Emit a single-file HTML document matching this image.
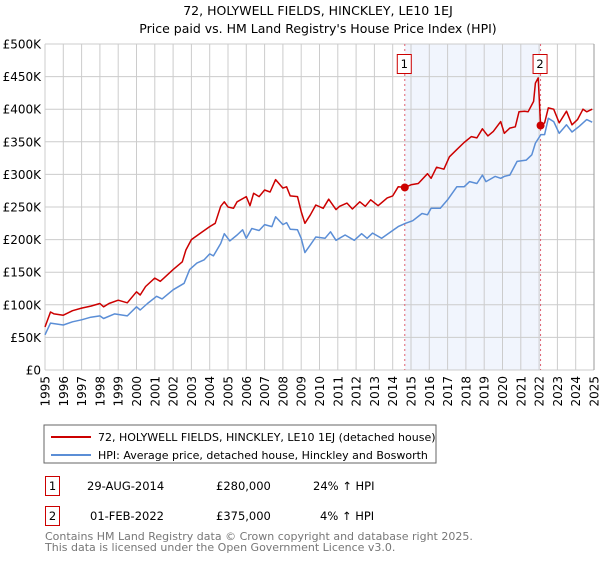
<!DOCTYPE html>
<html><head><meta charset="utf-8"><style>
body{margin:0;background:#fff;font-family:"Liberation Sans","DejaVu Sans",sans-serif;}
svg text{font-family:"DejaVu Sans","Liberation Sans",sans-serif;}
</style></head><body>
<svg id="c" width="600" height="560" xmlns="http://www.w3.org/2000/svg">
<text x="318" y="15" text-anchor="middle" font-size="12.5">72, HOLYWELL FIELDS, HINCKLEY, LE10 1EJ</text>
<text x="318" y="33" text-anchor="middle" font-size="12.5">Price paid vs. HM Land Registry's House Price Index (HPI)</text>
<g id="plot"></g>
<rect x="44" y="425" width="392" height="38" fill="#fff" stroke="#666"/>
<line x1="51" y1="437" x2="91" y2="437" stroke="#cc0000" stroke-width="2"/>
<text x="98" y="441" font-size="11">72, HOLYWELL FIELDS, HINCKLEY, LE10 1EJ (detached house)</text>
<line x1="51" y1="455" x2="91" y2="455" stroke="#5b8ed6" stroke-width="2"/>
<text x="98" y="459" font-size="11">HPI: Average price, detached house, Hinckley and Bosworth</text>
<g>
<rect x="45.5" y="476.5" width="14" height="19" fill="#fff" stroke="#cc0000"/>
<text x="52.5" y="490" text-anchor="middle" font-size="11.5">1</text>
<text x="87" y="490" font-size="11.5">29-AUG-2014</text>
<text x="216" y="490" font-size="11.5">£280,000</text>
<text x="313" y="490" font-size="11.5">24% ↑ HPI</text></g>
<g>
<rect x="45.5" y="506.5" width="14" height="19" fill="#fff" stroke="#cc0000"/>
<text x="52.5" y="520" text-anchor="middle" font-size="11.5">2</text>
<text x="90" y="520" font-size="11.5">01-FEB-2022</text>
<text x="216" y="520" font-size="11.5">£375,000</text>
<text x="320" y="520" font-size="11.5">4% ↑ HPI</text></g>
<text x="45" y="540" font-size="11" fill="#777">Contains HM Land Registry data © Crown copyright and database right 2025.</text>
<text x="45" y="551" font-size="11" fill="#777">This data is licensed under the Open Government Licence v3.0.</text>
</svg>
<script>
const yTicks=[0,50,100,150,200,250,300,350,400,450,500];
const yLabels=["£0","£50K","£100K","£150K","£200K","£250K","£300K","£350K","£400K","£450K","£500K"];
const years=[1995,1996,1997,1998,1999,2000,2001,2002,2003,2004,2005,2006,2007,2008,2009,2010,2011,2012,2013,2014,2015,2016,2017,2018,2019,2020,2021,2022,2023,2024,2025];
const redT=[1995.0,1995.3,1995.5,1996,1996.5,1997,1997.5,1998,1998.2,1998.5,1999,1999.5,2000,2000.2,2000.5,2001,2001.3,2001.5,2002,2002.5,2002.7,2003,2003.5,2004,2004.3,2004.6,2004.8,2005,2005.3,2005.5,2006,2006.2,2006.4,2006.7,2007,2007.3,2007.6,2008,2008.2,2008.4,2008.8,2009,2009.2,2009.5,2009.8,2010.2,2010.5,2010.9,2011.1,2011.5,2011.8,2012.2,2012.5,2012.8,2013.2,2013.7,2014,2014.3,2014.66,2015,2015.4,2015.9,2016.1,2016.4,2016.8,2017.1,2017.5,2017.9,2018.3,2018.6,2018.9,2019.2,2019.5,2019.9,2020.1,2020.4,2020.7,2020.9,2021.2,2021.4,2021.7,2021.8,2021.95,2022.08,2022.3,2022.5,2022.8,2023.1,2023.5,2023.8,2024.1,2024.4,2024.6,2024.9];
const redV=[66,89,86,84,91,95,98,102,97,102,107,103,120,115,128,141,136,141,154,166,184,200,210,220,225,251,258,250,248,258,266,252,271,266,276,273,292,279,281,267,266,243,225,238,253,248,262,246,251,256,247,258,251,261,252,264,267,281,280,284,286,301,294,311,308,327,338,349,358,356,370,359,366,381,363,371,373,396,397,396,412,440,448,375,379,402,400,379,397,376,384,400,396,400];
const blueT=[1995.0,1995.3,1996,1996.5,1997,1997.5,1998,1998.2,1998.8,1999.5,2000,2000.2,2000.6,2001.1,2001.4,2002,2002.6,2002.9,2003.3,2003.7,2004,2004.2,2004.6,2004.8,2005.1,2005.5,2005.8,2006,2006.3,2006.7,2007,2007.4,2007.6,2008,2008.2,2008.4,2008.8,2009,2009.2,2009.5,2009.8,2010.3,2010.6,2010.9,2011.4,2011.9,2012.3,2012.6,2012.9,2013.4,2013.9,2014.3,2014.7,2015.1,2015.6,2015.9,2016.1,2016.6,2017.0,2017.5,2017.9,2018.2,2018.6,2018.9,2019.1,2019.6,2019.9,2020.1,2020.4,2020.8,2021.3,2021.6,2021.8,2022.1,2022.3,2022.5,2022.8,2023.1,2023.5,2023.8,2024.2,2024.6,2024.9];
const blueV=[54,72,69,74,77,81,83,79,86,83,97,92,102,113,109,123,133,154,164,169,178,175,194,209,198,207,215,202,217,214,223,220,235,223,226,216,215,202,180,192,204,202,212,199,207,199,209,202,210,202,212,220,225,229,240,238,248,248,261,281,281,289,286,299,289,297,294,297,299,320,322,330,348,361,361,386,381,363,376,365,374,384,380];
const sales=[{t:2014.66,v:280,label:"1"},{t:2022.08,v:375,label:"2"}];
const NS="http://www.w3.org/2000/svg";
const X0=45,X1=594,Y0=370,Y1=44;
const xs=t=>X0+(t-1995)/30*(X1-X0);
const ys=v=>Y0-v/500*(Y0-Y1);
const g=document.getElementById('plot');
function mk(tag,attrs){const e=document.createElementNS(NS,tag);for(const k in attrs)e.setAttribute(k,attrs[k]);g.appendChild(e);return e;}
let sh=mk('rect',{x:xs(sales[0].t),y:Y1,width:xs(sales[1].t)-xs(sales[0].t),height:Y0-Y1,fill:'#eef3fc',opacity:0.8});


yTicks.forEach((v,i)=>{
 let l=mk('line',{x1:X0,x2:X1,y1:ys(v),y2:ys(v),stroke:'#ccc'});
 
 
 let t=mk('text',{x:X0-4,y:ys(v)+4.5,'text-anchor':'end','font-size':'12'});t.textContent=yLabels[i];
 
 
});
years.forEach(y=>{
 let l=mk('line',{x1:xs(y),x2:xs(y),y1:Y1,y2:Y0,stroke:'#ccc'});
 
 
 let t=mk('text',{x:0,y:0,'text-anchor':'end','font-size':'12',transform:`translate(${xs(y)+4.5},376) rotate(-90)`});t.textContent=y;
 
 
});
sales.forEach(s=>{
 let l=mk('line',{x1:xs(s.t),x2:xs(s.t),y1:Y1,y2:Y0,stroke:'#e06070','stroke-dasharray':'2,3'});
 
 
 let r=mk('rect',{x:xs(s.t)-7.5,y:54.5,width:14,height:19,fill:'#fff',stroke:'#cc0000'});
 
 
 let t=mk('text',{x:xs(s.t)-0.5,y:68,'text-anchor':'middle','font-size':'11.5'});t.textContent=s.label;
 
 
});
function path(T,V){return T.map((t,i)=>(i?'L':'M')+xs(t).toFixed(1)+','+ys(V[i]).toFixed(1)).join('');}
let bl=mk('path',{d:path(blueT,blueV),fill:'none',stroke:'#5b8ed6','stroke-width':1.5,'stroke-linejoin':'round'});


let rl=mk('path',{d:path(redT,redV),fill:'none',stroke:'#cc0000','stroke-width':1.5,'stroke-linejoin':'round'});


sales.forEach(s=>{
 let c=mk('circle',{cx:xs(s.t),cy:ys(s.v),r:4,fill:'#cc0000'});
 
 
});
let ax=mk('line',{x1:X1,x2:X1,y1:Y1,y2:Y0,stroke:'#999'});


</script>
</body></html>
